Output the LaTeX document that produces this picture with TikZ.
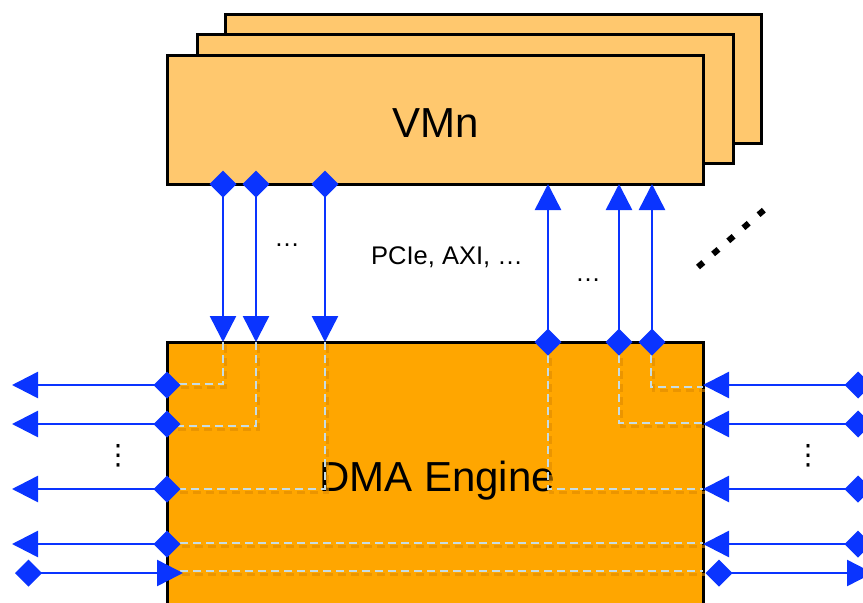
\documentclass[tikz,border=0pt]{standalone}
\usepackage{fontspec}
\setmainfont{Liberation Sans}
\newfontfamily\dejavu{DejaVu Sans}
\usetikzlibrary{arrows.meta}
\definecolor{vmfill}{RGB}{255,200,110}
\definecolor{dmafill}{RGB}{255,166,0}
\definecolor{busblue}{RGB}{10,52,255}
\definecolor{dashcol}{RGB}{198,220,228}
\definecolor{dashshadow}{RGB}{222,138,0}
\tikzset{
  box/.style={draw=black, line width=3pt, inner sep=0pt},
  vmbox/.style={box, fill=vmfill, minimum width=536pt, minimum height=129pt},
  dmabox/.style={box, fill=dmafill, minimum width=536pt, minimum height=278pt},
  bus/.style={draw=busblue, line width=2.5pt,
    {Turned Square[length=27pt,width=27pt]}-{Triangle[length=26pt,width=26pt]},
    shorten <=-13.5pt},
  dashline/.style={draw=dashcol, line width=2pt, dash pattern=on 8pt off 5pt},
  dashshade/.style={draw=dashshadow, line width=3pt, dash pattern=on 8pt off 5pt,
    opacity=0.6, shift={(2,3)}},
  bigtext/.style={font=\fontsize{42}{46}\selectfont, anchor=base, inner sep=0pt},
  midtext/.style={font=\fontsize{25.5}{28}\selectfont, anchor=base, inner sep=0pt},
  vdotstext/.style={font=\dejavu\fontsize{28}{30}\selectfont, inner sep=0pt},
}
\begin{document}
\begin{tikzpicture}[x=1pt,y=-1pt]
\useasboundingbox (0,0) rectangle (863,603);
\clip (0,0) rectangle (863,603);

% VM stack
\node[vmbox] (vm3) at (493,78.5) {};
\node[vmbox] (vm2) at (465,99) {};
\node[vmbox] (vm) at (435,119.5) {};
\node[bigtext] (vmlabel) at (436,137) {VMn};

% DMA engine
\node[dmabox] (dma) at (435,481) {};
\node[bigtext] (dmalabel) at (437,491) {DMA Engine};

% port coordinates
\coordinate (va) at (223,184); \coordinate (da) at (223,342);
\coordinate (vb) at (256,184); \coordinate (db) at (256,342);
\coordinate (vc) at (325,184); \coordinate (dc) at (325,342);
\coordinate (vd) at (548,184); \coordinate (dd) at (548,342);
\coordinate (ve) at (619,184); \coordinate (de) at (619,342);
\coordinate (vf) at (652,184); \coordinate (df) at (652,342);

\coordinate (l1) at (167,385); \coordinate (l1o) at (12,385);
\coordinate (l2) at (167,424); \coordinate (l2o) at (12,424);
\coordinate (l3) at (167,489); \coordinate (l3o) at (12,489);
\coordinate (l4) at (167,544); \coordinate (l4o) at (12,544);
\coordinate (l5) at (183,573); \coordinate (l5o) at (28.5,573);

\coordinate (r1) at (703,385); \coordinate (r1o) at (858,385);
\coordinate (r2) at (703,424); \coordinate (r2o) at (858,424);
\coordinate (r3) at (703,489); \coordinate (r3o) at (858,489);
\coordinate (r4) at (703,544); \coordinate (r4o) at (858,544);
\coordinate (r5) at (719,573); \coordinate (r5o) at (873,573);

% internal dashed routes (shadow then line)
\foreach \s in {dashshade,dashline}{
  \draw[\s] (223,342) -- (223,384) -- (167,384);
  \draw[\s] (256,342) -- (256,426) -- (167,426);
  \draw[\s] (325,342) -- (325,489) -- (167,489);
  \draw[\s] (548,342) -- (548,489) -- (703,489);
  \draw[\s] (619,342) -- (619,423) -- (703,423);
  \draw[\s] (651,342) -- (651,387) -- (703,387);
  \draw[\s] (167,543) -- (703,543);
  \draw[\s] (167,571) -- (703,571);
}

% buses VM -> DMA
\draw[bus] (va) -- (da);
\draw[bus] (vb) -- (db);
\draw[bus] (vc) -- (dc);
% buses DMA -> VM
\draw[bus] (dd) -- (vd);
\draw[bus] (de) -- (ve);
\draw[bus] (df) -- (vf);

% left side
\draw[bus] (l1) -- (l1o);
\draw[bus] (l2) -- (l2o);
\draw[bus] (l3) -- (l3o);
\draw[bus] (l4) -- (l4o);
\draw[bus] (l5o) -- (l5);
% right side
\draw[bus] (r1o) -- (r1);
\draw[bus] (r2o) -- (r2);
\draw[bus] (r3o) -- (r3);
\draw[bus] (r4o) -- (r4);
\draw[bus] (r5) -- (r5o);

% labels
\node[midtext] (dots1) at (287,246) {…};
\node[midtext] (bus) at (447,264) {PCIe, AXI, …};
\node[midtext] (dots2) at (588,281) {…};
\node[vdotstext] (vd1) at (118,456) {⋮};
\node[vdotstext] (vd2) at (808,456) {⋮};

% more VMs
\draw[line width=6pt, dash pattern=on 7pt off 13pt] (698,267) -- (764,210);
\end{tikzpicture}
\end{document}
